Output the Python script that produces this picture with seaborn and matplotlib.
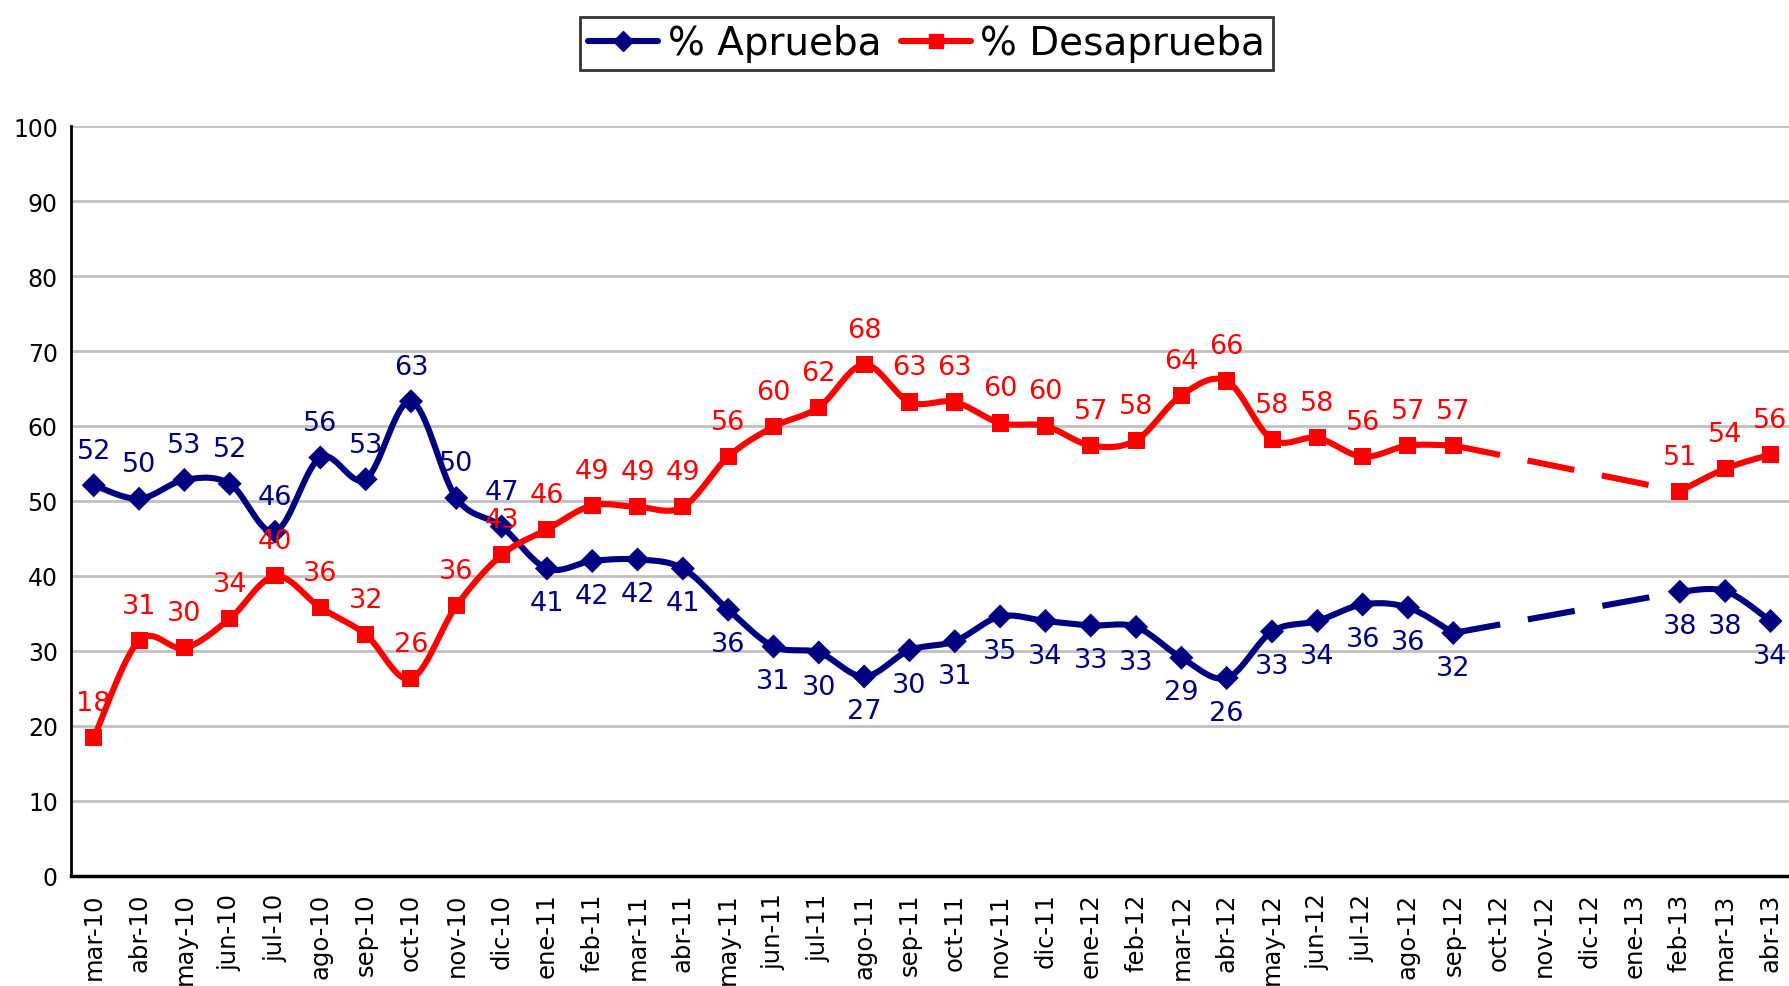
import numpy as np
import pandas as pd
import matplotlib
matplotlib.use("Agg")
import matplotlib.pyplot as plt
from matplotlib.lines import Line2D
from matplotlib.ticker import FixedLocator
import seaborn as sns

# Data
months = ["mar-10", "abr-10", "may-10", "jun-10", "jul-10", "ago-10", "sep-10", "oct-10",
          "nov-10", "dic-10", "ene-11", "feb-11", "mar-11", "abr-11", "may-11", "jun-11",
          "jul-11", "ago-11", "sep-11", "oct-11", "nov-11", "dic-11", "ene-12", "feb-12",
          "mar-12", "abr-12", "may-12", "jun-12", "jul-12", "ago-12", "sep-12", "oct-12",
          "nov-12", "dic-12", "ene-13", "feb-13", "mar-13", "abr-13"]
nan = np.nan
aprueba = [52.1, 50.3, 52.8, 52.3, 45.9, 55.8, 52.9, 63.3, 50.4, 46.6, 41.0, 42.0, 42.2,
           41.0, 35.5, 30.6, 29.8, 26.6, 30.1, 31.3, 34.6, 34.0, 33.4, 33.2, 29.1, 26.4,
           32.6, 34.0, 36.2, 35.8, 32.4, nan, nan, nan, nan, 37.9, 38.0, 34.0]
desaprueba = [18.4, 31.4, 30.4, 34.3, 40.0, 35.8, 32.2, 26.3, 36.0, 42.8, 46.2, 49.4, 49.2,
              49.2, 55.9, 59.9, 62.5, 68.2, 63.2, 63.2, 60.4, 60.0, 57.4, 58.1, 64.1, 66.0,
              58.2, 58.4, 55.9, 57.4, 57.4, nan, nan, nan, nan, 51.3, 54.3, 56.2]
# labels above (+1) or below (-1) the point
aprueba_pos = [1] * 10 + [-1] * 28
desaprueba_pos = [1] * 38

BLUE = "#000080"
RED = "#FF0000"


def catmull(xs, ys, n=16):
    # smooth curve through the points, like Excel's "smoothed line"
    out_x, out_y = [], []
    m = len(xs)
    for i in range(m - 1):
        p0 = (xs[max(i - 1, 0)], ys[max(i - 1, 0)])
        p1 = (xs[i], ys[i])
        p2 = (xs[i + 1], ys[i + 1])
        p3 = (xs[min(i + 2, m - 1)], ys[min(i + 2, m - 1)])
        for t in np.linspace(0, 1, n, endpoint=(i == m - 2)):
            t2, t3 = t * t, t * t * t
            bx = 0.5 * (2 * p1[0] + (-p0[0] + p2[0]) * t + (2 * p0[0] - 5 * p1[0] + 4 * p2[0] - p3[0]) * t2
                        + (-p0[0] + 3 * p1[0] - 3 * p2[0] + p3[0]) * t3)
            by = 0.5 * (2 * p1[1] + (-p0[1] + p2[1]) * t + (2 * p0[1] - 5 * p1[1] + 4 * p2[1] - p3[1]) * t2
                        + (-p0[1] + 3 * p1[1] - 3 * p2[1] + p3[1]) * t3)
            out_x.append(bx)
            out_y.append(by)
    return out_x, out_y


def segments(vals):
    # split the series into runs without gaps
    segs, cur = [], []
    for i, v in enumerate(vals):
        if np.isnan(v):
            if cur:
                segs.append(cur)
            cur = []
        else:
            cur.append(i)
    if cur:
        segs.append(cur)
    return segs


series = {"% Aprueba": (aprueba, BLUE, "D"), "% Desaprueba": (desaprueba, RED, "s")}

rows = []
for name, (vals, col, mk) in series.items():
    for k, seg in enumerate(segments(vals)):
        sx, sy = catmull(seg, [vals[i] for i in seg])
        rows += [{"x": a, "y": b, "serie": name, "seg": k} for a, b in zip(sx, sy)]
smooth_df = pd.DataFrame(rows)

points_df = pd.DataFrame({
    "x": list(range(len(months))) * 2,
    "y": aprueba + desaprueba,
    "serie": ["% Aprueba"] * len(months) + ["% Desaprueba"] * len(months),
}).dropna()

sns.set_style("white")
plt.rcParams["font.family"] = ["DejaVu Sans"]
plt.rcParams["text.color"] = "black"
plt.rcParams["xtick.color"] = "black"
plt.rcParams["ytick.color"] = "black"

fig = plt.figure(figsize=(17.9, 9.87), dpi=100)
ax = fig.add_axes([0.0397, 0.1115, 0.9603, 0.7598])

palette = {"% Aprueba": BLUE, "% Desaprueba": RED}
sns.lineplot(data=smooth_df, x="x", y="y", hue="serie", units="seg", estimator=None,
             sort=False, palette=palette, linewidth=4.4, legend=False, ax=ax, zorder=3)

# dashed bridge over the months without data
for name, (vals, col, mk) in series.items():
    segs = segments(vals)
    for a, b in zip(segs[:-1], segs[1:]):
        ax.plot([a[-1], b[0]], [vals[a[-1]], vals[b[0]]], color=col, linewidth=4.4,
                linestyle=(0, (7.8, 4.6)), zorder=3)

sns.scatterplot(data=points_df, x="x", y="y", hue="serie", style="serie",
                markers={"% Aprueba": "D", "% Desaprueba": "s"}, palette=palette,
                s=150, edgecolor="none", legend=False, ax=ax, zorder=4)

# data labels
for vals, pos, col in [(aprueba, aprueba_pos, BLUE), (desaprueba, desaprueba_pos, RED)]:
    for i, v in enumerate(vals):
        if np.isnan(v):
            continue
        ax.annotate(f"{v:.0f}", (i, v), xytext=(0, 25 * pos[i]), textcoords="offset points",
                    ha="center", va="center", color=col, fontsize=19.5, zorder=5)

ax.set_xlim(-0.5, 37.43)
ax.set_ylim(0, 100)
ax.set_yticks(range(0, 101, 10))
ax.yaxis.grid(True, color="#c0c0c0", linewidth=2)
ax.set_axisbelow(True)
ax.set_xlabel("")
ax.set_ylabel("")

ax.set_xticks(range(len(months)))
ax.set_xticklabels(months, rotation=90, fontsize=17.5)
ax.xaxis.set_minor_locator(FixedLocator(np.arange(-0.5, len(months), 1.0)))
ax.tick_params(axis="x", which="major", length=0, pad=12)
ax.tick_params(axis="x", which="minor", length=10, width=1.8, direction="out", color="black")
ax.tick_params(axis="y", length=6, width=1.8, direction="out", color="black", labelsize=17)

for side in ["top", "right"]:
    ax.spines[side].set_visible(False)
ax.spines["left"].set_linewidth(2)
ax.spines["left"].set_color("black")
ax.spines["bottom"].set_linewidth(2.5)
ax.spines["bottom"].set_color("black")

handles = [Line2D([0], [0], color=BLUE, lw=4.4, marker="D", markersize=10),
           Line2D([0], [0], color=RED, lw=4.4, marker="s", markersize=10)]
leg = fig.legend(handles, ["% Aprueba", "% Desaprueba"], loc="center",
                 bbox_to_anchor=(0.5176, 0.955), ncol=2, fontsize=28, frameon=True,
                 fancybox=False, edgecolor="black", handlelength=1.8, handletextpad=0.25,
                 columnspacing=0.5, borderpad=0.2, borderaxespad=0)
leg.get_frame().set_linewidth(2)
for t in leg.get_texts():
    t.set_color("black")

fig.savefig("out.png", dpi=100)
